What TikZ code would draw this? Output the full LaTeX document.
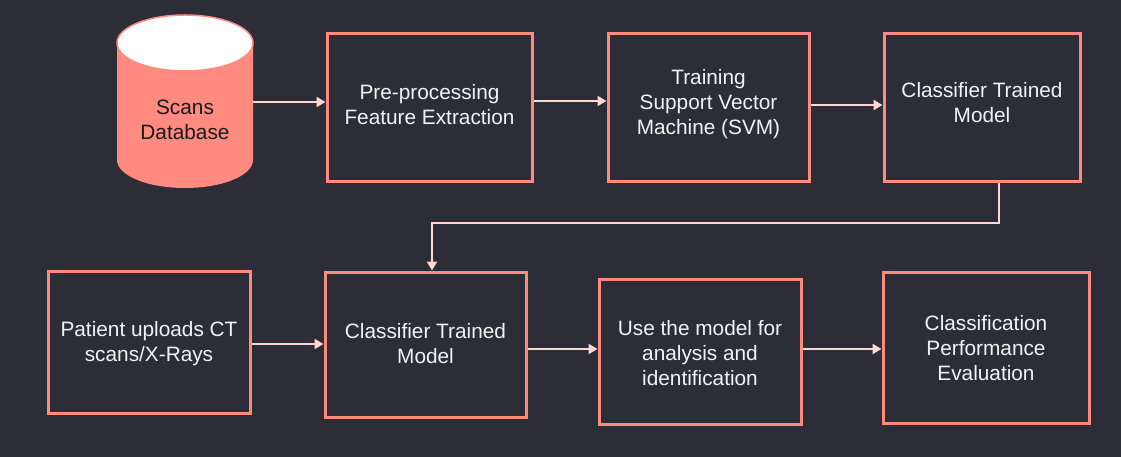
\documentclass[tikz,border=0pt]{standalone}
\usepackage{fontspec}
\setmainfont{Liberation Sans}
\usetikzlibrary{arrows.meta}
\definecolor{bg}{HTML}{2D2D38}
\definecolor{salmon}{HTML}{FF8A80}
\definecolor{arrowc}{HTML}{FFD8D4}
\definecolor{txtc}{HTML}{F2F2F2}
\definecolor{dark}{HTML}{1A1A1A}
\begin{document}
\begin{tikzpicture}[x=1pt,y=-1pt,
  stepbox/.style={draw=salmon,line width=3pt,fill=bg,inner sep=0pt},
  lbl/.style={text=txtc,align=center,font=\fontsize{20.8}{25}\selectfont,inner sep=0pt},
  conn/.style={draw=arrowc,line width=2.6pt,-{Triangle[length=9pt,width=10pt]}}]
\fill[bg] (0,0) rectangle (1121,457);
\useasboundingbox (0,0) rectangle (1121,457);
% cylinder
\fill[salmon] (117,43) -- (117,160) arc[start angle=180,end angle=0,x radius=68,y radius=28] -- (253,43) -- cycle;
\draw[salmon,line width=1.5pt,fill=white] (185,43) ellipse[x radius=68,y radius=28];
\node[lbl,text=dark] (db) at (185,120) {Scans\\Database};
\coordinate (dbR) at (253,102);
% boxes
\node[stepbox,minimum width=205pt,minimum height=148pt] (b1) at (429.5,107.5) {};
\node[stepbox,minimum width=201pt,minimum height=148pt] (b2) at (708.5,108) {};
\node[stepbox,minimum width=196pt,minimum height=148pt] (b3) at (982,108) {};
\node[stepbox,minimum width=202pt,minimum height=142pt] (b4) at (149,342) {};
\node[stepbox,minimum width=201pt,minimum height=145pt] (b5) at (425.5,344.5) {};
\node[stepbox,minimum width=202pt,minimum height=145pt] (b6) at (700,351.5) {};
\node[stepbox,minimum width=206pt,minimum height=151pt] (b7) at (986,347.5) {};
% labels
\node[lbl] (t1) at (429.5,105) {Pre-processing\\Feature Extraction};
\node[lbl] (t2) at (708.5,104) {Training\\Support Vector\\Machine (SVM)};
\node[lbl] (t3) at (982,102.5) {Classifier Trained\\Model};
\node[lbl] (t4) at (149,344) {Patient uploads CT\\scans/X-Rays};
\node[lbl] (t5) at (425.5,343.5) {Classifier Trained\\Model};
\node[lbl] (t6) at (700,353) {Use the model for\\analysis and\\identification};
\node[lbl] (t7) at (986,348) {Classification\\Performance\\Evaluation};
% connectors
\draw[conn] (dbR) -- (b1.west |- dbR);
\draw[conn] (b1.east |- 0,101) -- (b2.west |- 0,101);
\draw[conn] (b2.east |- 0,105) -- (b3.west |- 0,105);
\coordinate (fb1) at (999,223);
\coordinate (fb2) at (432,223);
\draw[conn,line join=miter] (b3.south -| fb1) -- (fb1) -- (fb2) -- (b5.north -| fb2);
\draw[conn] (b4.east |- 0,344) -- (b5.west |- 0,344);
\draw[conn] (b5.east |- 0,349) -- (b6.west |- 0,349);
\draw[conn] (b6.east |- 0,349) -- (b7.west |- 0,349);
\end{tikzpicture}
\end{document}
